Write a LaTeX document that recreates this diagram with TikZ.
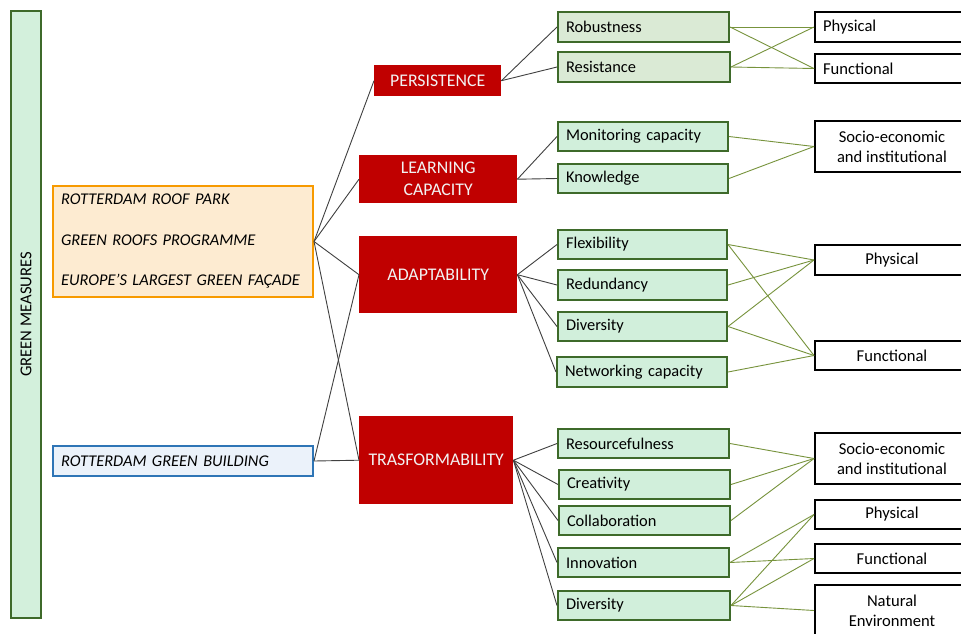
\documentclass[tikz,border=0pt]{standalone}
\usepackage{fontspec}
\setmainfont{Carlito}
\definecolor{gmfill}{HTML}{D3F0DC}
\definecolor{gborder}{HTML}{3E6A2A}
\definecolor{gfill}{HTML}{D1EFDB}
\definecolor{gfilltwo}{HTML}{DAEAD5}
\definecolor{redc}{HTML}{C00000}
\definecolor{orangef}{HTML}{FDEBD1}
\definecolor{orangec}{HTML}{F79A00}
\definecolor{bluef}{HTML}{EBF2FA}
\definecolor{bluec}{HTML}{2E75B6}
\definecolor{grayline}{HTML}{404040}
\definecolor{gline}{HTML}{77933C}
\newcommand\bxl[7]{\pgfmathsetmacro\bw{#5-#3-16}\pgfmathsetmacro\bh{#6-#4}%
  \node[#1, text width=\bw pt, minimum height=\bh pt, anchor=north west] (#2) at (#3,#4) {#7};}
\newcommand\bxc[7]{\pgfmathsetmacro\bw{#5-#3}\pgfmathsetmacro\bh{#6-#4}%
  \node[#1, minimum width=\bw pt, minimum height=\bh pt, anchor=north west] (#2) at (#3,#4) {#7};}
\begin{document}
\begin{tikzpicture}[x=1pt,y=-1pt,
  base/.style={rectangle, inner xsep=8pt, inner ysep=0pt, font=\fontsize{16.4}{19}\selectfont},
  gbox/.style={base, draw=gborder, fill=gfill, line width=2pt, align=left},
  gboxb/.style={gbox, fill=gfilltwo},
  rbox/.style={base, fill=redc, text=white!95!black, align=center, font=\fontsize{17.8}{22}\selectfont},
  kbox/.style={base, draw=black, fill=white, line width=2pt, align=center, font=\fontsize{16.6}{20}\selectfont},
  kboxl/.style={kbox, align=left},
  obox/.style={base, draw=orangec, fill=orangef, line width=2pt, align=left, font=\fontsize{16.4}{40.5}\selectfont\itshape},
  bbox/.style={base, draw=bluec, fill=bluef, line width=2pt, align=left, font=\fontsize{16.4}{19}\selectfont\itshape},
  gmbox/.style={base, draw=gborder, fill=gmfill, line width=2pt, font=\fontsize{16.6}{19}\selectfont},
  conn/.style={draw=grayline, line width=0.9pt},
  gconn/.style={draw=gline, line width=0.9pt}]
\clip (0,0) rectangle (961,633);
\fill[white] (0,0) rectangle (961,633);
% green measures
\node[gmbox, rotate=90, minimum width=607pt, minimum height=30pt] (gm) at (26,314.5) {GREEN MEASURES};
% measures
\bxl{obox}{oran}{52}{185}{312}{296}{ROTTERDAM ROOF PARK\\GREEN ROOFS PROGRAMME\\EUROPE\char"27 S LARGEST GREEN FAÇADE}
\bxl{bbox}{blue}{52}{445}{312}{475}{ROTTERDAM GREEN BUILDING}
% red
\bxc{rbox}{per}{374}{65}{501}{96}{PERSISTENCE}
\bxc{rbox}{lea}{359}{155}{517}{203}{LEARNING\\CAPACITY}
\bxc{rbox}{ada}{359}{236}{517}{313}{ADAPTABILITY}
\bxc{rbox}{tra}{359}{416}{513}{504}{TRASFORMABILITY}
% green
\bxl{gboxb}{rob}{557}{11}{728}{41}{Robustness}
\bxl{gboxb}{res}{557}{51}{729}{81}{Resistance}
\bxl{gbox}{mon}{557}{121}{727}{150}{Monitoring capacity}
\bxl{gbox}{kno}{557}{163}{727}{192}{Knowledge}
\bxl{gbox}{fle}{557}{229}{726}{258}{Flexibility}
\bxl{gbox}{rdd}{557}{269}{726}{299}{Redundancy}
\bxl{gbox}{dvo}{557}{311}{726}{340}{Diversity}
\bxl{gbox}{net}{556}{356}{726}{386}{Networking capacity}
\bxl{gbox}{rsf}{557}{428}{728}{457}{Resourcefulness}
\bxl{gbox}{cre}{558}{469}{729}{498}{Creativity}
\bxl{gbox}{col}{558}{505}{729}{534}{Collaboration}
\bxl{gbox}{inn}{557}{547}{728}{576}{Innovation}
\bxl{gbox}{dvt}{557}{590}{729}{619}{Diversity}
% black
\bxl{kboxl}{pha}{814}{11}{968}{41}{Physical}
\bxl{kboxl}{fua}{814}{53}{968}{82}{Functional}
\bxc{kbox}{soa}{814}{120}{968}{171}{Socio-economic\\and institutional}
\bxc{kbox}{phb}{814}{244}{968}{274}{Physical}
\bxc{kbox}{fub}{814}{340}{968}{369}{Functional}
\bxc{kbox}{sob}{814}{432}{968}{483}{Socio-economic\\and institutional}
\bxc{kbox}{phc}{814}{499}{968}{528}{Physical}
\bxc{kbox}{fuc}{814}{543}{968}{572}{Functional}
\bxc{kbox}{nat}{814}{584}{968}{635}{Natural\\Environment}
% gray connectors
\foreach \t in {per,lea,ada,tra} \draw[conn] (oran.east) -- (\t.west);
\foreach \t in {ada,tra} \draw[conn] (blue.east) -- (\t.west);
\foreach \t in {rob,res} \draw[conn] (per.east) -- (\t.west);
\foreach \t in {mon,kno} \draw[conn] (lea.east) -- (\t.west);
\foreach \t in {fle,rdd,dvo,net} \draw[conn] (ada.east) -- (\t.west);
\foreach \t in {rsf,cre,col,inn,dvt} \draw[conn] (tra.east) -- (\t.west);
% green connectors
\foreach \s in {rob,res} {\draw[gconn] (\s.east) -- (pha.west); \draw[gconn] (\s.east) -- (fua.west);}
\foreach \s in {mon,kno} \draw[gconn] (\s.east) -- (soa.west);
\foreach \s in {fle,rdd,dvo} \draw[gconn] (\s.east) -- (phb.west);
\foreach \s in {fle,dvo,net} \draw[gconn] (\s.east) -- (fub.west);
\foreach \s in {rsf,cre,col} \draw[gconn] (\s.east) -- (sob.west);
\foreach \s in {inn,dvt} {\draw[gconn] (\s.east) -- (phc.west); \draw[gconn] (\s.east) -- (fuc.west);}
\draw[gconn] (dvt.east) -- (nat.west);
\end{tikzpicture}
\end{document}
